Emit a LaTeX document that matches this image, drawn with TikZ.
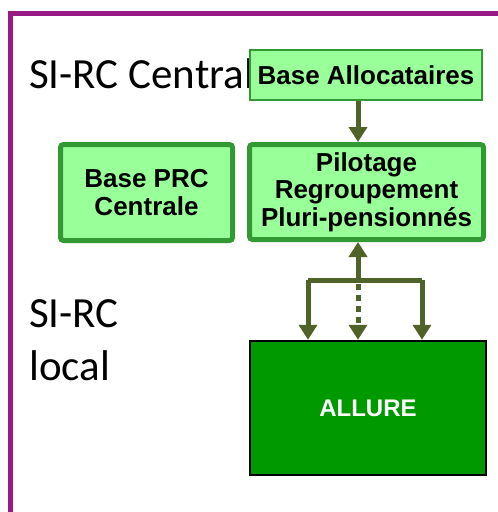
\documentclass[tikz,border=0pt]{standalone}
\usepackage{fontspec}
\setmainfont{Carlito}
\newfontfamily\arialf{Liberation Sans}
\usetikzlibrary{arrows.meta}
\definecolor{frameP}{RGB}{153,25,135}
\definecolor{lgreen}{RGB}{153,255,153}
\definecolor{bgreen}{RGB}{51,153,51}
\definecolor{dgreen}{RGB}{0,153,0}
\definecolor{olive}{RGB}{79,98,40}
\tikzset{
  lbl/.style={font=\fontsize{43}{53}\selectfont, inner sep=0pt, align=left},
  thinbox/.style={draw=bgreen, fill=lgreen, line width=1.5pt, inner sep=0pt,
    font=\arialf\bfseries\fontsize{26}{27}\selectfont, align=center},
  thickbox/.style={draw=bgreen, fill=lgreen, line width=5pt, rounded corners=3pt, inner sep=0pt,
    font=\arialf\bfseries\fontsize{26}{27.5}\selectfont, align=center},
  darkbox/.style={draw=black, fill=dgreen, line width=2.5pt, inner sep=0pt, text=white,
    font=\arialf\bfseries\fontsize{24}{27}\selectfont},
  arr/.style={draw=olive, line width=5pt, -{Triangle[width=18pt,length=15pt]}},
  link/.style={draw=olive, line width=5pt}
}
\begin{document}
\begin{tikzpicture}[x=1pt,y=-1pt]
\useasboundingbox (0,0) rectangle (498,512);
\fill[white] (0,0) rectangle (498,512);
% purple frame (open on right and bottom)
\draw[frameP, line width=5pt] (10.5,520) -- (10.5,13) -- (510,13);
% labels
\node[lbl, anchor=base west] (central) at (29,88) {SI-RC Central};
\node[lbl, anchor=base west] (local) at (29,380) {SI-RC\\local};
% boxes
\node[thinbox, minimum width=232pt, minimum height=50pt] (alloc) at (366,75) {Base Allocataires};
\node[thickbox, minimum width=234pt, minimum height=95pt] (pil) at (366.5,192) {Pilotage\\Regroupement\\Pluri-pensionnés};
\node[thickbox, minimum width=172pt, minimum height=96pt] (prc) at (146.5,192.5) {Base PRC\\Centrale};
\node[darkbox, minimum width=236pt, minimum height=134pt] (all) at (368,408) {ALLURE};
% connectors
\coordinate (ax) at (358,0);
\coordinate (bc) at (358,280);
\coordinate (bl) at (308,280);
\coordinate (br) at (422,280);
\draw[arr] (alloc.south -| ax) -- (pil.north -| ax);
\draw[arr] (bc) -- (pil.south -| ax);
\draw[link] (bl) -- (br);
\draw[arr] (bl) -- (all.north -| bl);
\draw[arr] (br) -- (all.north -| br);
\draw[arr, dash pattern=on 6pt off 5pt] (358,284) -- (all.north -| bc);
\end{tikzpicture}
\end{document}
